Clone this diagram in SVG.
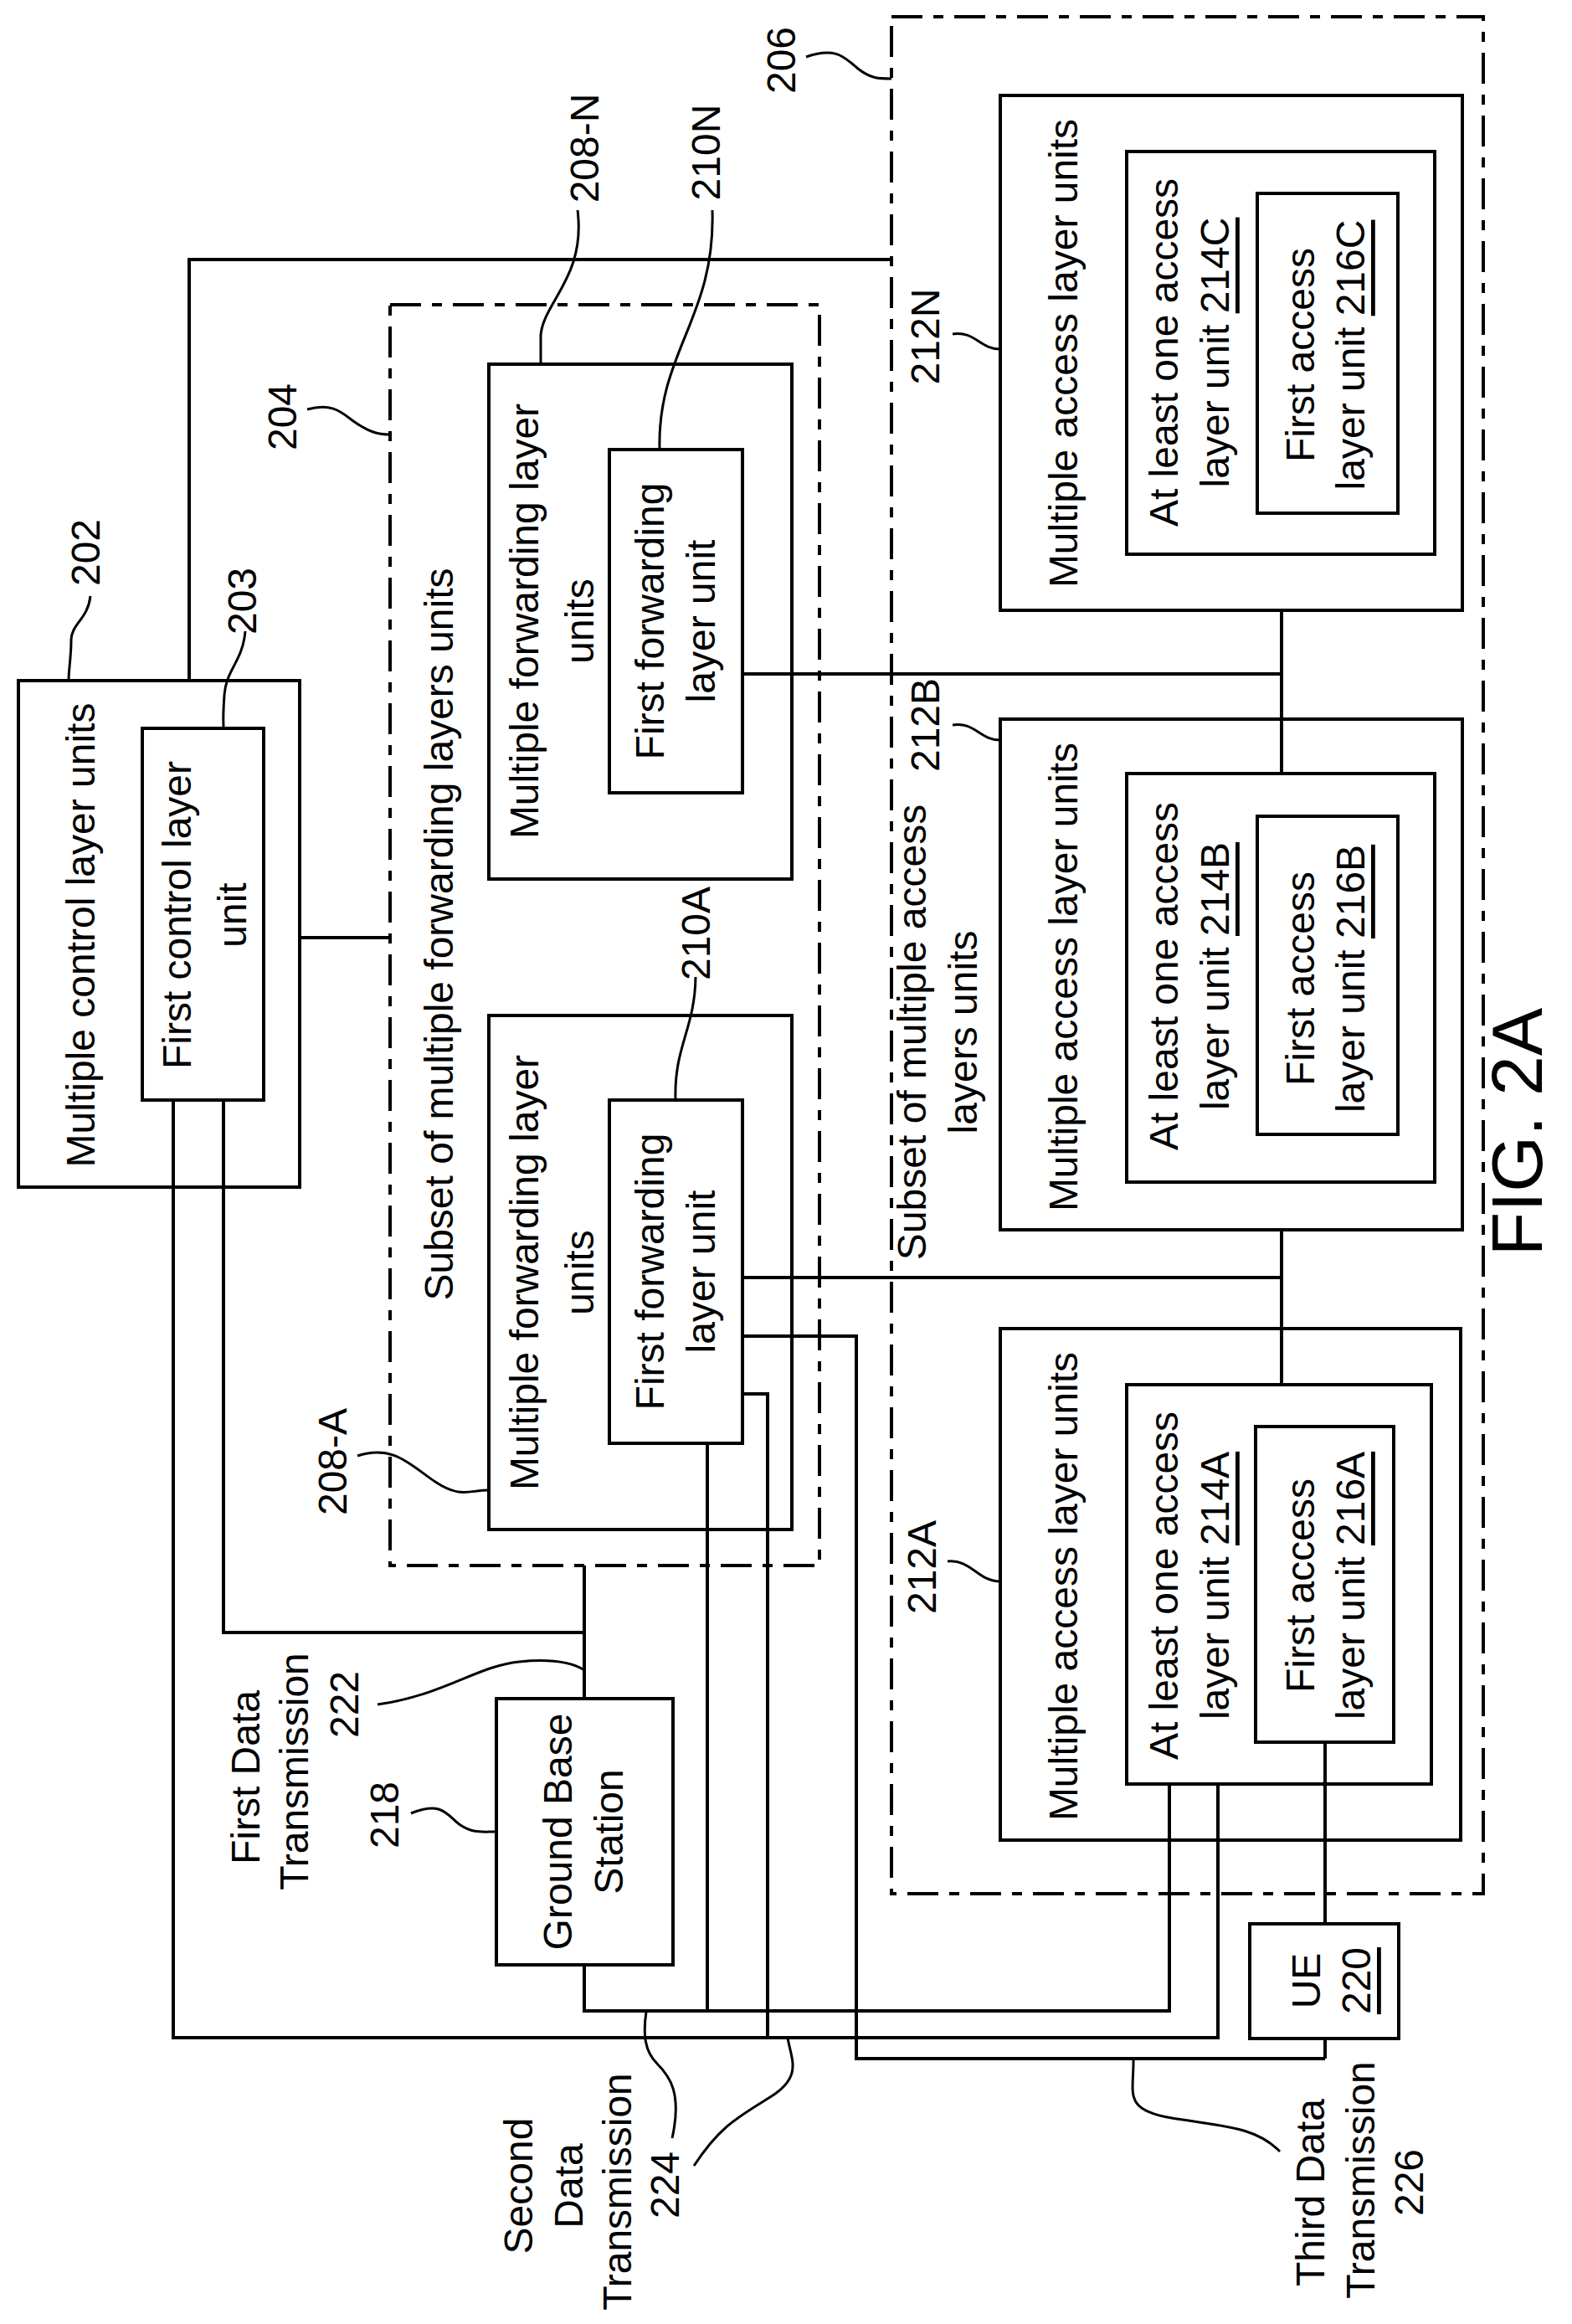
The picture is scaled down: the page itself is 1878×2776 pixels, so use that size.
<svg xmlns="http://www.w3.org/2000/svg" width="1878" height="2776" viewBox="0 0 1878 2776">
<style>
.b{fill:none;stroke:#000;stroke-width:4}
.d{fill:none;stroke:#000;stroke-width:4;stroke-dasharray:37 13 12 13}
.l{fill:none;stroke:#000;stroke-width:4}
.ld{fill:none;stroke:#000;stroke-width:3}
text{font-family:"Liberation Sans",Arial,sans-serif;font-size:48px;fill:#000;text-anchor:middle;dominant-baseline:central}
.u{text-decoration:underline}
.fig{font-size:86px}
</style>
<rect width="1878" height="2776" fill="#fff"/>
<g id="connectors">
<path class="l" d="M226,813V310H1065"/>
<path class="l" d="M358,1120H466"/>
<path class="l" d="M887,805H1531M1531,729V924"/>
<path class="l" d="M887,1526H1531M1531,1469V1654"/>
<path class="l" d="M887,1596H1023V2459H1583M1583,2081V2298M1583,2435V2459"/>
<path class="l" d="M887,1665H917V2434"/>
<path class="l" d="M845,1724V2402"/>
<path class="l" d="M267,1314V1950H698M698,1870V2029M698,2347V2402H1397V2131"/>
<path class="l" d="M207,1314V2434H1455V2131"/>
</g>
<g id="n206"><rect class="d" x="1065" y="20" width="707" height="2242"/><text transform="translate(933,72) rotate(-90)">206</text><path class="ld" d="M963,68C1000,55 1010,70 1025,82S1050,94 1065,94"/></g>
<g id="n202"><rect class="b" x="22" y="813" width="336" height="605"/><text transform="translate(96,1117) rotate(-90)">Multiple control layer units</text><text transform="translate(102,660) rotate(-90)">202</text><path class="ld" d="M108,712C105,740 85,745 85,765S82,800 82,813"/></g>
<g id="n203"><rect class="b" x="170" y="870" width="145" height="444"/><text transform="translate(211,1093) rotate(-90)">First control layer</text><text transform="translate(277,1093) rotate(-90)">unit</text><text transform="translate(289,718) rotate(-90)">203</text><path class="ld" d="M293,754C290,790 270,800 268,830S267,860 267,870"/></g>
<g id="n204"><rect class="d" x="466" y="364" width="513" height="1506"/><text transform="translate(524,1116) rotate(-90)">Subset of multiple forwarding layers units</text><text transform="translate(337,498) rotate(-90)">204</text><path class="ld" d="M367,489C400,480 410,495 425,505S450,519 466,519"/></g>
<g id="n208N"><rect class="b" x="584" y="435" width="362" height="615"/><text transform="translate(626,742) rotate(-90)">Multiple forwarding layer</text><text transform="translate(692,742) rotate(-90)">units</text><text transform="translate(698,177) rotate(-90)">208-N</text><path class="ld" d="M690,251C700,330 650,360 646,400V435"/></g>
<g id="n210N"><rect class="b" x="728" y="537" width="159" height="410"/><text transform="translate(776,742) rotate(-90)">First forwarding</text><text transform="translate(837,742) rotate(-90)">layer unit</text><text transform="translate(843,182) rotate(-90)">210N</text><path class="ld" d="M851,251C855,380 785,420 788,537"/></g>
<g id="n208A"><rect class="b" x="584" y="1213" width="362" height="614"/><text transform="translate(626,1520) rotate(-90)">Multiple forwarding layer</text><text transform="translate(692,1520) rotate(-90)">units</text><text transform="translate(397,1746) rotate(-90)">208-A</text><path class="ld" d="M427,1739C470,1725 490,1750 520,1770S560,1780 584,1780"/></g>
<g id="n210A"><rect class="b" x="728" y="1314" width="159" height="410"/><text transform="translate(776,1519) rotate(-90)">First forwarding</text><text transform="translate(837,1519) rotate(-90)">layer unit</text><text transform="translate(831,1115) rotate(-90)">210A</text><path class="ld" d="M831,1167C830,1230 805,1250 807,1314"/></g>
<g id="n212N"><rect class="b" x="1195" y="114" width="552" height="615"/><text transform="translate(1270,422) rotate(-90)">Multiple access layer units</text><text transform="translate(1105,402) rotate(-90)">212N</text><path class="ld" d="M1138,399C1165,395 1170,417 1195,417"/></g>
<g id="n214C"><rect class="b" x="1346" y="181" width="368" height="481"/><text transform="translate(1390,421) rotate(-90)">At least one access</text><text transform="translate(1451,421) rotate(-90)">layer unit <tspan class="u">214C</tspan></text></g>
<g id="n216C"><rect class="b" x="1502" y="231" width="168" height="382"/><text transform="translate(1553,424) rotate(-90)">First access</text><text transform="translate(1613,424) rotate(-90)">layer unit <tspan class="u">216C</tspan></text></g>
<g id="n212B"><rect class="b" x="1195" y="859" width="552" height="610"/><text transform="translate(1270,1167) rotate(-90)">Multiple access layer units</text><text transform="translate(1105,866) rotate(-90)">212B</text><path class="ld" d="M1138,866C1165,862 1170,884 1195,884"/></g>
<g id="n214B"><rect class="b" x="1346" y="924" width="368" height="488"/><text transform="translate(1390,1166) rotate(-90)">At least one access</text><text transform="translate(1451,1166) rotate(-90)">layer unit <tspan class="u">214B</tspan></text></g>
<g id="n216B"><rect class="b" x="1502" y="975" width="168" height="380"/><text transform="translate(1553,1169) rotate(-90)">First access</text><text transform="translate(1613,1169) rotate(-90)">layer unit <tspan class="u">216B</tspan></text></g>
<g id="n212A"><rect class="b" x="1195" y="1587" width="550" height="611"/><text transform="translate(1270,1895) rotate(-90)">Multiple access layer units</text><text transform="translate(1101,1872) rotate(-90)">212A</text><path class="ld" d="M1132,1865C1160,1862 1168,1889 1195,1889"/></g>
<g id="n214A"><rect class="b" x="1346" y="1654" width="364" height="477"/><text transform="translate(1390,1894) rotate(-90)">At least one access</text><text transform="translate(1451,1894) rotate(-90)">layer unit <tspan class="u">214A</tspan></text></g>
<g id="n216A"><rect class="b" x="1500" y="1704" width="165" height="377"/><text transform="translate(1553,1894) rotate(-90)">First access</text><text transform="translate(1613,1894) rotate(-90)">layer unit <tspan class="u">216A</tspan></text></g>
<g id="n206text"><text transform="translate(1089,1233) rotate(-90)">Subset of multiple access</text><text transform="translate(1150,1233) rotate(-90)">layers units</text></g>
<g id="n218"><rect class="b" x="593" y="2029" width="211" height="318"/><text transform="translate(666,2188) rotate(-90)">Ground Base</text><text transform="translate(727,2188) rotate(-90)">Station</text><text transform="translate(459,2168) rotate(-90)">218</text><path class="ld" d="M491,2166C530,2150 535,2170 550,2180S575,2188 592,2188"/></g>
<g id="n220"><rect class="b" x="1493" y="2298" width="178" height="137"/><text transform="translate(1560,2366) rotate(-90)">UE</text><text transform="translate(1620,2366) rotate(-90)"><tspan class="u">220</tspan></text></g>
<g id="n222"><text transform="translate(293,2123) rotate(-90)">First Data</text><text transform="translate(351,2116) rotate(-90)">Transmission</text><text transform="translate(411,2036) rotate(-90)">222</text><path class="ld" d="M451,2036C530,2025 570,1990 620,1985S690,1990 698,1995"/></g>
<g id="n224"><text transform="translate(619,2611) rotate(-90)">Second</text><text transform="translate(679,2611) rotate(-90)">Data</text><text transform="translate(737,2618) rotate(-90)">Transmission</text><text transform="translate(794,2610) rotate(-90)">224</text><path class="ld" d="M803,2554C815,2500 800,2480 785,2465S768,2430 772,2403"/><path class="ld" d="M829,2587C860,2540 880,2530 920,2505S945,2460 941,2434"/></g>
<g id="n226"><text transform="translate(1565,2619) rotate(-90)">Third Data</text><text transform="translate(1625,2604) rotate(-90)">Transmission</text><text transform="translate(1683,2607) rotate(-90)">226</text><path class="ld" d="M1529,2570C1500,2540 1460,2540 1400,2530S1355,2500 1354,2459"/></g>
<g id="fig"><text class="fig" transform="translate(1812,1352) rotate(-90)">FIG. 2A</text></g>
</svg>
